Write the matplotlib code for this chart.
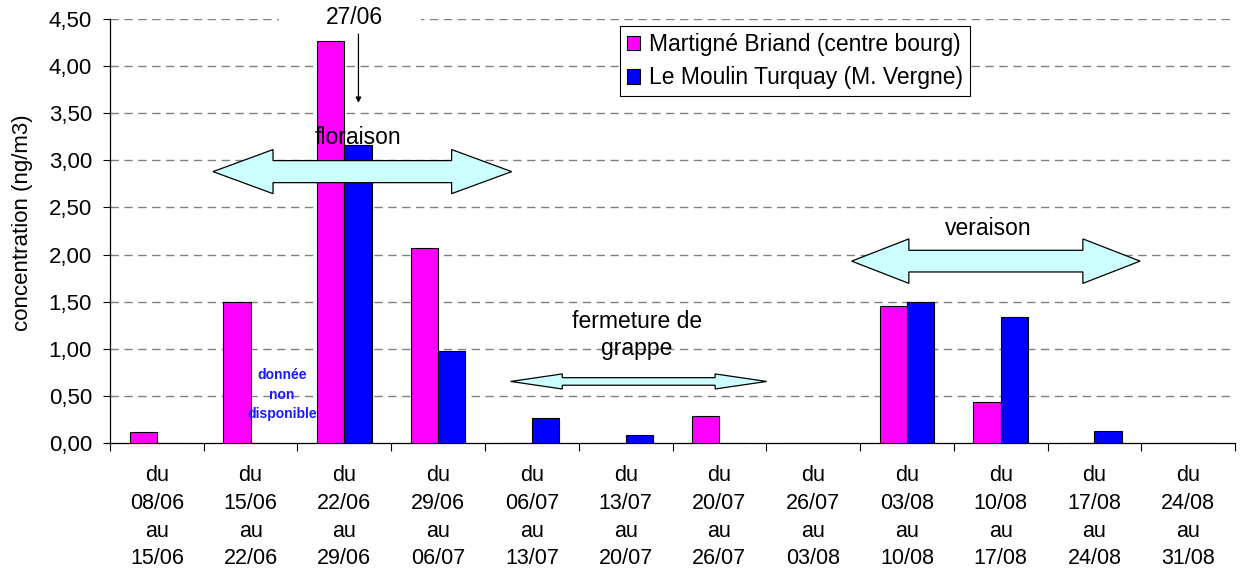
import numpy as np
import matplotlib
matplotlib.use("Agg")
from matplotlib import pyplot as plt
from matplotlib.patches import Polygon, Rectangle

periods = ["du\n08/06\nau\n15/06", "du\n15/06\nau\n22/06", "du\n22/06\nau\n29/06",
           "du\n29/06\nau\n06/07", "du\n06/07\nau\n13/07", "du\n13/07\nau\n20/07",
           "du\n20/07\nau\n26/07", "du\n26/07\nau\n03/08", "du\n03/08\nau\n10/08",
           "du\n10/08\nau\n17/08", "du\n17/08\nau\n24/08", "du\n24/08\nau\n31/08"]
martigne = [0.12, 1.50, 4.27, 2.07, 0, 0, 0.29, 0, 1.45, 0.44, 0, 0]
moulin = [0, 0, 3.16, 0.98, 0.26, 0.08, 0, 0, 1.50, 1.34, 0.13, 0]
label_martigne = "Martigné Briand (centre bourg)"
label_moulin = "Le Moulin Turquay (M. Vergne)"

plt.rcParams['font.family'] = ['Liberation Sans', 'DejaVu Sans']
plt.rcParams['font.size'] = 16.5


def block_arrow(ax, x0, x1, yc, body, head, head_len):
    # double headed block arrow, light cyan with black outline
    pts = [(x0, yc), (x0 + head_len, yc + head), (x0 + head_len, yc + body),
           (x1 - head_len, yc + body), (x1 - head_len, yc + head), (x1, yc),
           (x1 - head_len, yc - head), (x1 - head_len, yc - body),
           (x0 + head_len, yc - body), (x0 + head_len, yc - head)]
    ax.add_patch(Polygon(pts, closed=True, facecolor="#ccffff", edgecolor="black",
                         linewidth=0.9, zorder=5, clip_on=False))


fig = plt.figure(figsize=(12.4, 5.75), dpi=100)
ax = fig.add_axes([0.0887, 0.2296, 0.9073, 0.7374])

x = np.arange(len(periods))
w = 0.29
ax.bar(x - w / 2, martigne, w, color="#ff00ff", edgecolor="black", linewidth=0.8,
       label=label_martigne, zorder=3)
ax.bar(x + w / 2, moulin, w, color="#0000ff", edgecolor="black", linewidth=0.8,
       label=label_moulin, zorder=3)

ax.set_xlim(-0.5, len(periods) - 0.5)
ax.set_ylim(0, 4.5)
ax.set_yticks(np.arange(0, 4.51, 0.5))
ax.set_yticklabels([f"{v:.2f}".replace(".", ",") for v in np.arange(0, 4.51, 0.5)],
                   fontsize=16)
for v in np.arange(0.5, 4.51, 0.5):
    ax.axhline(v, color="#808080", linewidth=1.0, linestyle=(0, (6, 4)), zorder=1)

ax.set_xticks(np.arange(-0.5, len(periods), 1.0))
ax.set_xticklabels([])
ax.set_xticks(x, minor=True)
ax.set_xticklabels(periods, minor=True, linespacing=1.42, fontsize=15.5)
ax.tick_params(axis="x", which="major", length=6, width=0.8, direction="out")
ax.tick_params(axis="x", which="minor", length=0, pad=16)
ax.tick_params(axis="y", length=5, width=0.8, direction="out", pad=8)
for s in ["top", "right"]:
    ax.spines[s].set_visible(False)
ax.spines["left"].set_linewidth(0.9)
ax.spines["bottom"].set_linewidth(0.9)
ax.set_ylabel("concentration (ng/m3)", fontsize=16)
ax.yaxis.set_label_coords(-0.068, 0.52)

# phenological stages
block_arrow(ax, 0.599, 3.784, 2.88, 0.117, 0.234, 0.64)
ax.text(2.14, 3.24, "floraison", ha="center", va="center", zorder=6)

block_arrow(ax, 3.774, 6.504, 0.653, 0.04, 0.08, 0.55)
ax.text(5.12, 1.146, "fermeture de\ngrappe", ha="center", va="center",
        linespacing=1.25, zorder=6)

block_arrow(ax, 7.411, 10.487, 1.93, 0.115, 0.236, 0.61)
ax.text(8.87, 2.28, "veraison", ha="center", va="center", zorder=6)

# date marker
ax.add_patch(Rectangle((1.3, 4.42), 1.52, 0.3, facecolor="white", edgecolor="none",
                       zorder=4, clip_on=False))
ax.text(2.11, 4.52, "27/06", ha="center", va="center", zorder=6, clip_on=False)
ax.annotate("", xy=(2.15, 3.58), xytext=(2.15, 4.37),
            arrowprops=dict(arrowstyle="-|>", color="black", lw=0.9, mutation_scale=8),
            zorder=6)

ax.text(1.335, 0.51, "donnée\nnon\ndisponible", ha="center", va="center", fontsize=10,
        fontweight="bold", color="#1a1aff", linespacing=1.5, zorder=6)

leg = ax.legend(loc="upper left", bbox_to_anchor=(0.453, 0.983), fontsize=16.5,
                fancybox=False, shadow=False, framealpha=1, edgecolor="black",
                handlelength=0.6, handleheight=0.6, handletextpad=0.4,
                borderpad=0.3, labelspacing=0.45, borderaxespad=0)
leg.get_frame().set_linewidth(0.8)
leg.set_zorder(7)

fig.savefig("out.png", dpi=100)
